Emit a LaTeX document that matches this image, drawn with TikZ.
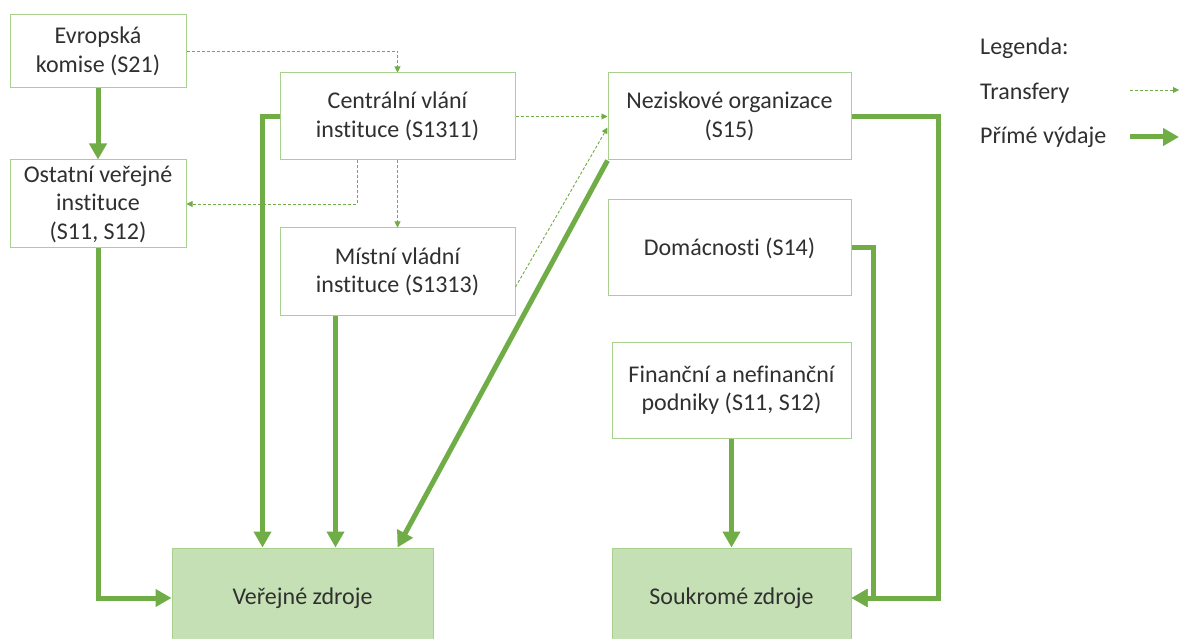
\documentclass[tikz,border=0pt]{standalone}
\usepackage{fontspec}
\setmainfont{Carlito}[Ligatures={NoCommon}]
\usetikzlibrary{arrows.meta}
\definecolor{gdark}{HTML}{70AD47}
\definecolor{gline}{HTML}{A9D18E}
\definecolor{gfill}{HTML}{C5E0B4}
\definecolor{txt}{HTML}{303030}
\begin{document}
\begin{tikzpicture}[x=1pt,y=-1pt,
  box/.style={draw=gline, line width=1pt, fill=white, text=txt, align=center, inner sep=0pt, font=\fontsize{24}{28.5}\selectfont},
  srcbox/.style={box, fill=gfill},
  direct/.style={draw=gdark, line width=5pt, -{Triangle[length=16pt,width=17pt]}},
  transfer/.style={draw=gdark, line width=0.9pt, dash pattern=on 3pt off 2pt, -{Triangle[length=6pt,width=6pt]}},
  lab/.style={anchor=west, text=txt, inner sep=0pt, font=\fontsize{24}{28.5}\selectfont}]
\useasboundingbox (0,0) rectangle (1179,639);
\fill[white] (0,0) rectangle (1179,639);
% boxes
\node[box, minimum width=176pt, minimum height=73pt] (ek) at (98,51.5) {Evropská\\komise (S21)};
\node[box, minimum width=176pt, minimum height=88pt] (ovi) at (98,204) {Ostatní veřejné\\instituce\\(S11, S12)};
\node[box, minimum width=235pt, minimum height=87pt] (cvi) at (397.5,116.5) {Centrální vlání\\instituce (S1311)};
\node[box, minimum width=235pt, minimum height=88pt] (mvi) at (397.5,272) {Místní vládní\\instituce (S1313)};
\node[box, minimum width=243pt, minimum height=87pt] (no) at (729.5,116.5) {Neziskové organizace\\(S15)};
\node[box, minimum width=243pt, minimum height=96pt] (dom) at (729.5,248) {Domácnosti (S14)};
\node[box, minimum width=239pt, minimum height=96pt] (fn) at (731.5,390) {Finanční a nefinanční\\podniky (S11, S12)};
\node[srcbox, minimum width=261pt, minimum height=100pt] (vz) at (302.5,598) {Veřejné zdroje};
\node[srcbox, minimum width=239pt, minimum height=100pt] (sz) at (731.5,598) {Soukromé zdroje};
% transfers
\draw[transfer] (ek.east) -| (cvi.north);
\draw[transfer] ([xshift=-40pt]cvi.south) |- (ovi.east);
\draw[transfer] (cvi.south) -- (mvi.north);
\draw[transfer] (cvi.east) -- (no.west);
\draw[transfer] ([yshift=-15pt]mvi.east) -- ([yshift=-11pt]no.west);
% direct
\draw[direct] (ek.south) -- (ovi.north);
\draw[direct] (ovi.south) |- (vz.west);
\draw[direct] (cvi.west) -| ([xshift=-40pt]vz.north);
\draw[direct] ([xshift=-62pt]mvi.south) -- ([xshift=-62pt]mvi.south |- vz.north);
\draw[direct] (no.south west) -- ([xshift=95pt]vz.north);
\draw[direct] (dom.east) -- ++(22,0) |- (sz.east);
\draw[direct] (no.east) -- ++(87,0) |- (sz.east);
\draw[direct] (fn.south) -- (sz.north);
% legend
\node[lab] (leg) at (980,48) {Legenda:};
\node[lab] (ltr) at (980,93) {Transfery};
\node[lab] (lpv) at (980,137) {Přímé výdaje};
\coordinate (ltrA) at (1130,90);
\coordinate (ltrB) at (1179,90);
\coordinate (lpvA) at (1130,137);
\coordinate (lpvB) at (1179,137);
\draw[transfer] (ltrA) -- (ltrB);
\draw[direct] (lpvA) -- (lpvB);
\end{tikzpicture}
\end{document}
